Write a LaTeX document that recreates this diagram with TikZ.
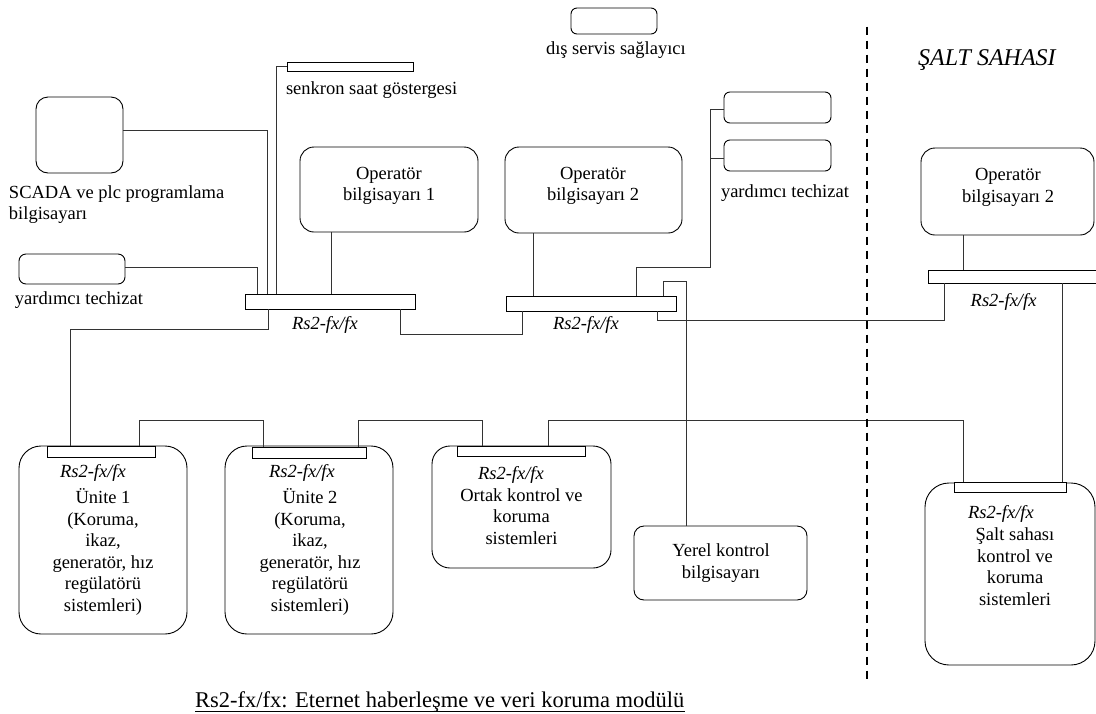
\documentclass[tikz,border=0pt]{standalone}
\usepackage{fontspec}
\setmainfont{Liberation Serif}
\begin{document}
\begin{tikzpicture}[x=1pt,y=-1pt,
  txt/.style={inner sep=0pt, outer sep=0pt, align=center, font=\fontsize{18.5}{21.5}\selectfont},
  itxt/.style={inner sep=0pt, outer sep=0pt, font=\fontsize{18.5}{21.5}\selectfont\itshape},
  dev/.style={draw, line width=0.9pt, rounded corners=#1, anchor=north west, inner sep=0pt, outer sep=0pt},
  dev/.default=8pt,
  bar/.style={draw, line width=0.9pt, anchor=north west, inner sep=0pt, outer sep=0pt, fill=white},
  wire/.style={draw=black!80, line width=0.9pt},
  border/.style={line width=2pt, dash pattern=on 8pt off 6pt},
]
\useasboundingbox (0,0) rectangle (1096,713);

% ---------- devices, control room ----------
\node[dev=12pt, minimum width=87pt,  minimum height=76pt] (scada) at (36,97) {};
\node[dev=7pt,  minimum width=106pt, minimum height=30pt] (yt1)   at (19,254) {};
\node[bar,      minimum width=126pt, minimum height=9pt]  (clock) at (287,62) {};
\node[dev=6pt,  minimum width=86pt,  minimum height=26pt] (dis)   at (571,8) {};
\node[dev=14pt, minimum width=178pt, minimum height=85pt] (op1)   at (300,147) {};
\node[dev=14pt, minimum width=177pt, minimum height=86pt] (op2)   at (505,147) {};
\node[dev=6pt,  minimum width=107pt, minimum height=31pt] (ytA)   at (724,92) {};
\node[dev=6pt,  minimum width=107pt, minimum height=31pt] (ytB)   at (724,140) {};

% ---------- switchyard operator station ----------
\node[dev=14pt, minimum width=173pt, minimum height=87pt] (op3)   at (921,148) {};

% ---------- Rs2-fx/fx switches ----------
\node[bar, minimum width=170pt, minimum height=15pt] (sw1) at (245,294) {};
\node[bar, minimum width=170pt, minimum height=15pt] (sw2) at (506,296) {};
\node[bar, minimum width=170pt, minimum height=13pt] (sw3) at (928,270) {};

% ---------- field units ----------
\node[dev=22pt, minimum width=168pt, minimum height=188pt] (u1)    at (19,446) {};
\node[dev=22pt, minimum width=168pt, minimum height=188pt] (u2)    at (225,446) {};
\node[dev=18pt, minimum width=179pt, minimum height=122pt] (ortak) at (432,446) {};
\node[dev=10pt, minimum width=173pt, minimum height=74pt]  (yerel) at (634,526) {};
\node[dev=24pt, minimum width=170pt, minimum height=182pt] (salt)  at (925,483) {};
\node[bar, minimum width=108pt, minimum height=11pt] (b1) at (47,446) {};
\node[bar, minimum width=114pt, minimum height=11pt] (b2) at (252,447) {};
\node[bar, minimum width=128pt, minimum height=10pt] (b3) at (457,446) {};
\node[bar, minimum width=112pt, minimum height=10pt] (b4) at (954,482) {};

% ---------- connections ----------
\draw[wire] (scada.east |- 0,130) -| (sw1.north -| 267,0);
\draw[wire] (yt1.east |- 0,267) -| (sw1.north -| 257,0);
\draw[wire] (clock.west) -| (sw1.north -| 276,0);
\draw[wire] (op1.south -| 331,0) -- (sw1.north -| 331,0);
\draw[wire] (sw1.south -| 268,0) -- ++(0,20) -| (b1.north -| 70,0);
\draw[wire] (sw1.south -| 400,0) -- ++(0,25) -| (sw2.south -| 522,0);
\draw[wire] (op2.south -| 533,0) -- (sw2.north -| 533,0);
\coordinate (ytbus) at (710,267);
\draw[wire] (ytA.west |- 0,109) -| (ytbus) -| (sw2.north -| 636,0);
\draw[wire] (ytB.west |- 0,158) -- (ytbus |- 0,158);
\draw[wire] (sw2.north -| 663,0) -- ++(0,-15) -| (yerel.north -| 686,0);
\draw[wire] (sw2.south -| 657,0) -- ++(0,9) -| (sw3.south -| 944,0);
\draw[wire] (op3.south -| 963,0) -- (sw3.north -| 963,0);
\draw[wire] (sw3.south -| 1062,0) -- (b4.north -| 1062,0);
\draw[wire] (b1.north -| 139,0) -- ++(0,-26) -| (b2.north -| 263,0);
\draw[wire] (b2.north -| 358,0) -- ++(0,-27) -| (b3.north -| 482,0);
\draw[wire] (b3.north -| 548,0) -- ++(0,-26) -| (b4.north -| 963,0);

% ---------- switchyard boundary ----------
\coordinate (sepTop) at (866.7,26.7);
\coordinate (sepBot) at (866.7,680);
\draw[border] (sepTop) -- (sepBot);

% ---------- labels (multi-line texts are placed by their last baseline) ----------
\node[txt, anchor=base west, align=left] (scadaLbl) at (9,219.5) {SCADA ve plc programlama\\bilgisayarı};
\node[txt, anchor=base west] (yt1Lbl)   at (15,304)  {yardımcı techizat};
\node[txt, anchor=base west] (clockLbl) at (286,94)  {senkron saat göstergesi};
\node[txt, anchor=base west] (disLbl)   at (546,54)  {dış servis sağlayıcı};
\node[txt, anchor=base] (op1Lbl) at (389,200.5) {Operatör\\bilgisayarı 1};
\node[txt, anchor=base] (op2Lbl) at (593,200.5) {Operatör\\bilgisayarı 2};
\node[txt, anchor=base] (op3Lbl) at (1008,202)  {Operatör\\bilgisayarı 2};
\node[txt, anchor=base west] (ytLbl) at (721,197) {yardımcı techizat};
\node[inner sep=0pt, anchor=base west, font=\fontsize{24}{28}\selectfont\itshape] (zone) at (918,65) {ŞALT SAHASI};

\node[itxt, anchor=base west] (sw1Lbl) at (292,329)   {Rs2-fx/fx};
\node[itxt, anchor=base west] (sw2Lbl) at (553,329)   {Rs2-fx/fx};
\node[itxt, anchor=base west] (sw3Lbl) at (970.7,306.7) {Rs2-fx/fx};
\node[itxt, anchor=base west] (b1Lbl) at (60,477)  {Rs2-fx/fx};
\node[itxt, anchor=base west] (b2Lbl) at (269,477) {Rs2-fx/fx};
\node[itxt, anchor=base west] (b3Lbl) at (478,479) {Rs2-fx/fx};
\node[itxt, anchor=base west] (b4Lbl) at (968,518) {Rs2-fx/fx};

\node[txt, anchor=base] (u1Lbl) at (103,611) {Ünite 1\\(Koruma,\\ikaz,\\generatör, hız\\regülatörü\\sistemleri)};
\node[txt, anchor=base] (u2Lbl) at (310,611) {Ünite 2\\(Koruma,\\ikaz,\\generatör, hız\\regülatörü\\sistemleri)};
\node[txt, anchor=base] (ortakLbl) at (521.5,544) {Ortak kontrol ve\\koruma\\sistemleri};
\node[txt, anchor=base] (yerelLbl) at (721,578) {Yerel kontrol\\bilgisayarı};
\node[txt, anchor=base] (saltLbl) at (1015,605) {Şalt sahası\\kontrol ve\\koruma\\sistemleri};

% ---------- legend ----------
\node[inner sep=0pt, anchor=base west, font=\fontsize{22.5}{26}\selectfont] (legend) at (195,707)
  {Rs2-fx/fx: Eternet haberleşme ve veri koruma modülü};
\draw[line width=1.1pt] ([yshift=-4.7pt]legend.base west) -- ([yshift=-4.7pt]legend.base east);
\end{tikzpicture}
\end{document}
